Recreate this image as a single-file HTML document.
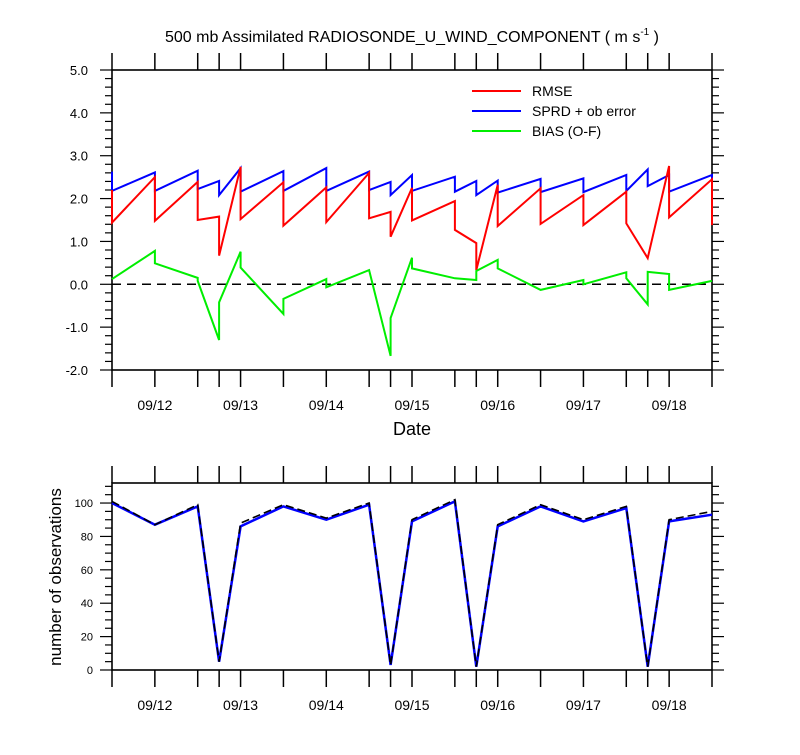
<!DOCTYPE html>
<html><head><meta charset="utf-8"><style>
body{margin:0;background:#fff;width:800px;height:750px;overflow:hidden}
svg{font-family:"Liberation Sans",sans-serif}
</style></head><body>
<svg id="c" width="800" height="750" xmlns="http://www.w3.org/2000/svg"></svg>
<script>
// data times in hours from 09/11 12Z
const tickHours=[0,12,24,30,36,48,60,72,78,84,96,102,108,120,132,144,150,156,168];
const dateLabels=["09/12","09/13","09/14","09/15","09/16","09/17","09/18"];
const dateHours=[12,36,60,84,108,132,156];
const rmseT=[0,0,12,12,24,24,30,30,36,36,48,48,60,60,72,72,78,78,84,84,96,96,102,102,108,108,120,120,132,132,144,144,150,156,156,168,168];
const rmseV=[2.2,1.44,2.50,1.48,2.39,1.50,1.58,0.67,2.74,1.52,2.38,1.37,2.26,1.45,2.60,1.54,1.69,1.11,2.25,1.49,1.94,1.27,0.96,0.33,2.32,1.36,2.24,1.41,2.08,1.38,2.16,1.42,0.61,2.76,1.56,2.45,1.38];
const sprdT=[0,0,12,12,24,24,30,30,36,36,48,48,60,60,72,72,78,78,84,84,96,96,102,102,108,108,120,120,132,132,144,144,150,150,156,156,168,168];
const sprdV=[2.63,2.18,2.61,2.18,2.65,2.22,2.41,2.08,2.71,2.16,2.64,2.18,2.71,2.18,2.63,2.20,2.39,2.08,2.55,2.18,2.51,2.16,2.41,2.08,2.42,2.14,2.46,2.15,2.47,2.15,2.55,2.18,2.68,2.29,2.55,2.16,2.55,2.4];
const biasT=[0,12,12,24,24,30,30,36,36,48,48,60,60,72,78,78,84,84,96,102,102,108,108,120,132,132,144,144,150,150,156,156,168];
const biasV=[0.12,0.78,0.49,0.15,0.08,-1.30,-0.42,0.76,0.39,-0.69,-0.34,0.12,-0.07,0.33,-1.67,-0.79,0.62,0.37,0.14,0.10,0.31,0.57,0.37,-0.13,0.10,0.00,0.28,0.14,-0.47,0.29,0.24,-0.13,0.08];
const obsT=[0,12,24,30,36,48,60,72,78,84,96,102,108,120,132,144,150,156,168];
const obsUsed=[100,87,98,5,86,98,90,99,3,89,101,2,86,98,89,97,2,89,93];
const obsAll=[101,87,99,5,88,99,91,100,3,90,102,2,87,99,90,98,2,90,95];
const topTicks=[-2,-1,0,1,2,3,4,5];
const botTicks=[0,20,40,60,80,100];

const svg=document.getElementById('c');
const NS="http://www.w3.org/2000/svg";
function mk(tag,attrs,parent){const e=document.createElementNS(NS,tag);for(const k in attrs)e.setAttribute(k,attrs[k]);(parent||svg).appendChild(e);return e;}
const X0=112,X1=712;
const xs=t=>X0+t*(X1-X0)/168;
const y1=v=>70+(5-v)*300/7;
const y2=v=>670-v*(670-483)/112;

function frame(top,bot,name){
  const g=mk('g',{});
  
  
  mk('rect',{x:X0,y:top,width:X1-X0,height:bot-top,fill:'none',stroke:'#000','stroke-width':1.6},g);
  tickHours.forEach(h=>{
    const x=xs(h);
    mk('line',{x1:x,x2:x,y1:top,y2:top-17,stroke:'#000','stroke-width':1.5},g);
    mk('line',{x1:x,x2:x,y1:bot,y2:bot+17,stroke:'#000','stroke-width':1.5},g);
  });
  dateHours.forEach((h,i)=>{
    const t=mk('text',{x:xs(h),y:bot+40,'text-anchor':'middle','font-size':14},g);
    
    
    t.textContent=dateLabels[i];
  });
  return g;
}
function path(T,V,ys,attrs,name){
  let d='';T.forEach((t,i)=>{d+=(i?'L':'M')+xs(t).toFixed(1)+','+ys(V[i]).toFixed(1);});
  const p=mk('path',Object.assign({d:d,fill:'none'},attrs));
  
  
  return p;
}

// title
const ti=mk('text',{x:412,y:42,'text-anchor':'middle','font-size':16});


ti.innerHTML='500 mb Assimilated RADIOSONDE_U_WIND_COMPONENT ( m s<tspan dy="-7" font-size="10">-1</tspan><tspan dy="7"> )</tspan>';

// top panel
const g1=frame(70,370,'top');
for(let v=-2;v<=5.0001;v+=0.2){
  const y=y1(v);const major=Math.abs(v-Math.round(v))<1e-6;const L=major?12:7;
  mk('line',{x1:X0,x2:X0-L,y1:y,y2:y,stroke:'#000','stroke-width':1.2},g1);
  mk('line',{x1:X1,x2:X1+L,y1:y,y2:y,stroke:'#000','stroke-width':1.2},g1);
}
topTicks.forEach(v=>{
  const t=mk('text',{x:88,y:y1(v)+5,'text-anchor':'end','font-size':13},g1);
  
  
  t.textContent=v.toFixed(1);
});
const zl=mk('line',{x1:X0,x2:X1,y1:y1(0),y2:y1(0),stroke:'#000','stroke-width':1.5,'stroke-dasharray':'9,6'});


path(sprdT,sprdV,y1,{stroke:'#0000ff','stroke-width':2},'sprd-line');
path(rmseT,rmseV,y1,{stroke:'#ff0000','stroke-width':2},'rmse-line');
path(biasT,biasV,y1,{stroke:'#00ee00','stroke-width':2},'bias-line');
const xt=mk('text',{x:412,y:435,'text-anchor':'middle','font-size':18});


xt.textContent='Date';

// legend
const legNames=['RMSE','SPRD + ob error','BIAS (O-F)'];
const legCols=['#ff0000','#0000ff','#00ee00'];
legNames.forEach((n,i)=>{
  const g=mk('g',{});
  
  
  const y=91+i*20;
  mk('line',{x1:472,x2:521,y1:y,y2:y,stroke:legCols[i],'stroke-width':2},g);
  const t=mk('text',{x:532,y:y+5,'font-size':14},g);
  t.textContent=n;
});

// bottom panel
const g2=frame(483,670,'bottom');
for(let v=0;v<=110;v+=5){
  const y=y2(v);const major=v%20===0;const L=major?12:7;
  mk('line',{x1:X0,x2:X0-L,y1:y,y2:y,stroke:'#000','stroke-width':1.2},g2);
  mk('line',{x1:X1,x2:X1+L,y1:y,y2:y,stroke:'#000','stroke-width':1.2},g2);
}
botTicks.forEach(v=>{
  const t=mk('text',{x:93,y:y2(v)+4,'text-anchor':'end','font-size':11},g2);
  
  
  t.textContent=v;
});
const yt=mk('text',{x:0,y:0,'text-anchor':'middle','font-size':17,transform:'translate(61,577) rotate(-90)'});


yt.textContent='number of observations';
path(obsT,obsUsed,y2,{stroke:'#0000ff','stroke-width':2.5},'obs-used-line');
path(obsT,obsAll,y2,{stroke:'#000','stroke-width':1.6,'stroke-dasharray':'8,4'},'obs-total-line');
</script>
</body></html>
